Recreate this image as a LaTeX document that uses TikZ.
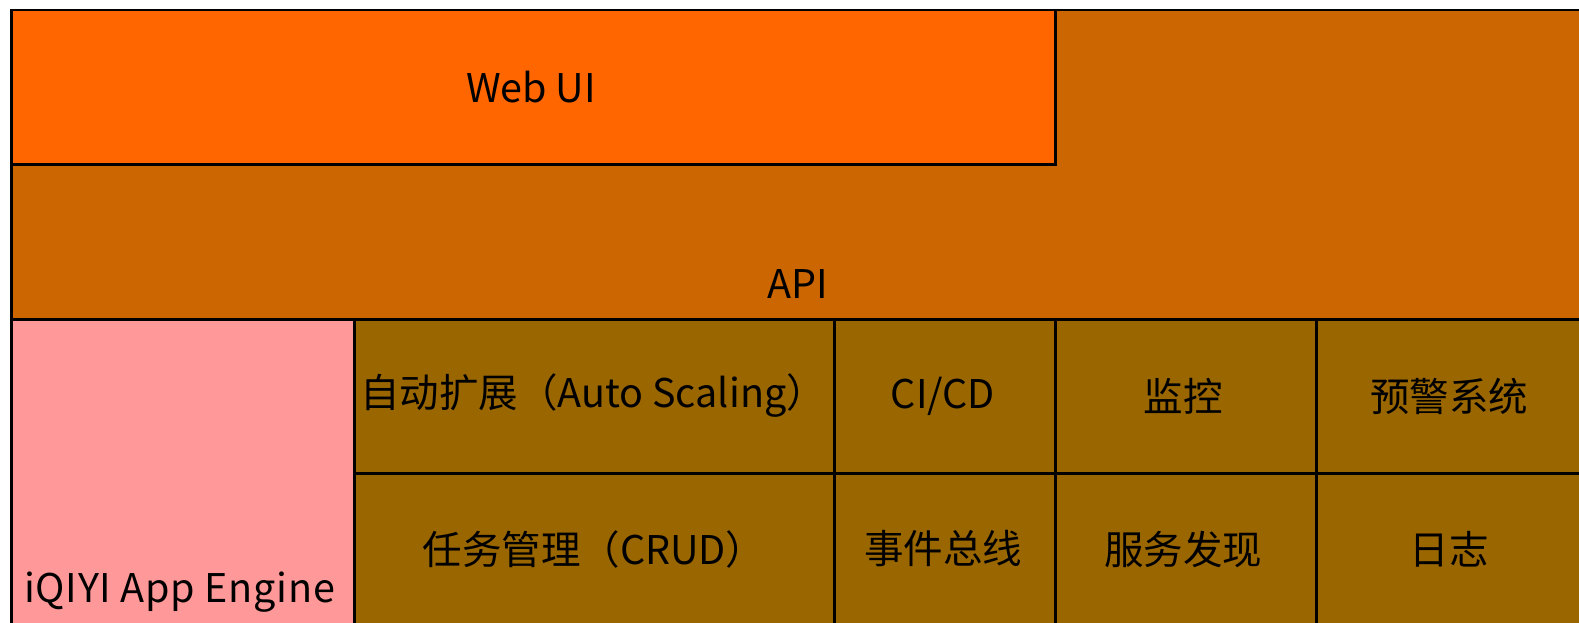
\documentclass[tikz,border=0pt]{standalone}
\usepackage{fontspec}
\setmainfont{Noto Sans CJK SC}
\definecolor{webui}{HTML}{FF6600}
\definecolor{api}{HTML}{CC6600}
\definecolor{cell}{HTML}{996600}
\definecolor{pink}{HTML}{FF9999}
\tikzset{
  box/.style={draw=black, line width=2.5pt, rectangle, inner sep=0pt, anchor=north west},
  lbl/.style={inner sep=0pt, font=\fontsize{39.5}{44}\selectfont, text=black},
}
\begin{document}
\begin{tikzpicture}[x=1pt,y=-1pt]
\useasboundingbox (0,0) rectangle (1579,623);
\clip (0,0) rectangle (1579,623);
\fill[white] (0,0) rectangle (1579,623);
% API band (behind)
\node[box, fill=api, minimum width=1600pt, minimum height=309pt] (api) at (10,9) {};
\node[lbl] (apit) at (798,284) {API};
% Web UI
\node[box, fill=webui, minimum width=1044pt, minimum height=154pt] (web) at (10,9) {};
\node[lbl] (webt) at (531,87) {Web UI};
% engine
\node[box, fill=pink, minimum width=343pt, minimum height=320pt] (eng) at (10,318) {};
\node[lbl, anchor=west] (engt) at (24,592) {\addfontfeature{LetterSpace=1.8}iQIYI App Engine};
% cells row 1
\node[box, fill=cell, minimum width=480pt, minimum height=154pt] (c11) at (353,318) {};
\node[box, fill=cell, minimum width=221pt, minimum height=154pt] (c12) at (833,318) {};
\node[box, fill=cell, minimum width=261pt, minimum height=154pt] (c13) at (1054,318) {};
\node[box, fill=cell, minimum width=285pt, minimum height=154pt] (c14) at (1315,318) {};
% cells row 2
\node[box, fill=cell, minimum width=480pt, minimum height=168pt] (c21) at (353,472) {};
\node[box, fill=cell, minimum width=221pt, minimum height=168pt] (c22) at (833,472) {};
\node[box, fill=cell, minimum width=261pt, minimum height=168pt] (c23) at (1054,472) {};
\node[box, fill=cell, minimum width=285pt, minimum height=168pt] (c24) at (1315,472) {};
% labels
\node[lbl] (t11) at (593,396) {自动扩展（Auto Scaling）};
\node[lbl] (t12) at (943,396) {CI/CD};
\node[lbl] (t13) at (1183,396) {监控};
\node[lbl] (t14) at (1449,396) {预警系统};
\node[lbl] (t21) at (594,549) {任务管理（CRUD）};
\node[lbl] (t22) at (943,549) {事件总线};
\node[lbl] (t23) at (1183,549) {服务发现};
\node[lbl] (t24) at (1449,549) {日志};
\end{tikzpicture}
\end{document}
